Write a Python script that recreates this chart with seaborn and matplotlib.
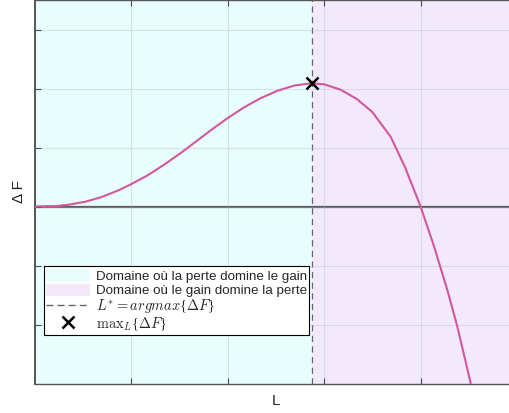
import numpy as np
import pandas as pd
import matplotlib
matplotlib.use("Agg")
import matplotlib.pyplot as plt
from matplotlib.patches import Patch, Rectangle
from matplotlib.lines import Line2D
from matplotlib.legend_handler import HandlerPatch
import seaborn as sns

# Curve ΔF(L)
L_vals = [0.00, 0.21, 0.34, 0.52, 0.69, 0.86, 1.00, 1.17, 1.34, 1.52, 1.69,
          1.86, 2.00, 2.17, 2.34, 2.52, 2.69, 2.87, 3.00, 3.17, 3.34, 3.50,
          3.69, 3.84, 4.00, 4.14, 4.28, 4.38, 4.48, 4.52]
delta_F = [0.00, 0.007, 0.028, 0.08, 0.16, 0.27, 0.38, 0.53, 0.71, 0.916, 1.126,
           1.336, 1.50, 1.682, 1.835, 1.965, 2.05, 2.09, 2.07, 1.98, 1.82, 1.60,
           1.18, 0.66, 0.00, -0.68, -1.43, -2.03, -2.72, -3.00]

legend_labels = [
    "Domaine où la perte domine le gain",
    "Domaine où le gain domine la perte",
    r"$L^{*} = argmax${$\Delta F$}",
    r"$\mathrm{max}_{L}${$\Delta F$}",
]
x_label = "L"
y_label = "Δ F"

df = pd.DataFrame({"L": L_vals, "dF": delta_F})
i_max = int(np.argmax(delta_F))
L_star = L_vals[i_max]
F_max = delta_F[i_max]

sns.set_style("white")
plt.rcParams["font.family"] = ["Liberation Sans", "DejaVu Sans"]
plt.rcParams["mathtext.fontset"] = "cm"

fig = plt.figure(figsize=(5.10, 4.13), dpi=100)
ax = fig.add_axes([35 / 510, (413 - 383.5) / 413, 482 / 510, 383.5 / 413])

xmin, xmax = 0, 5
ymin, ymax = -3, 3.5

cyan = "#e8fdfd"
lavender = "#f3e9fd"
ax.axvspan(xmin, L_star, color=cyan, lw=0, zorder=0)
ax.axvspan(L_star, xmax, color=lavender, lw=0, zorder=0)

ax.set_xlim(xmin, xmax)
ax.set_ylim(ymin, ymax)
ax.set_xticks([1, 2, 3, 4])
ax.set_yticks([-2, -1, 0, 1, 2, 3])
ax.set_xticklabels([])
ax.set_yticklabels([])
ax.grid(True, color="#b0b8bc", alpha=0.35, lw=0.8)
ax.set_axisbelow(False)
ax.tick_params(direction="in", length=4, width=0.8, color="#4a4a4a",
               top=True, right=True, bottom=True, left=True)

ax.axhline(0, color="#5a5a5a", lw=1.6, zorder=2)
ax.axvline(L_star, color="#666666", lw=0.9, ls=(0, (5, 3.5)), zorder=2)

sns.lineplot(data=df, x="L", y="dF", ax=ax, color="#d4569e", lw=1.5,
             zorder=3, legend=False)
sns.scatterplot(x=[L_star], y=[F_max], ax=ax, marker="x", s=75,
                color="black", linewidth=1.8, zorder=4, legend=False)

for side in ["left", "bottom", "top", "right"]:
    ax.spines[side].set_color("#555555")
    ax.spines[side].set_linewidth(1.0)
ax.spines["left"].set_linewidth(1.4)

ax.set_xlabel(x_label, fontsize=11, labelpad=4)
ax.set_ylabel(y_label, fontsize=11, labelpad=3)


def swatch(legend, orig_handle, xdescent, ydescent, width, height, fontsize):
    # colour swatch a bit shorter than its legend row
    h = 0.88 * fontsize
    return Rectangle((-xdescent, -ydescent + (height - h) / 2), width, h)


handles = [
    Patch(facecolor=cyan, edgecolor="none"),
    Patch(facecolor=lavender, edgecolor="none"),
    Line2D([], [], color="#666666", lw=1.0, ls=(0, (5, 3))),
    Line2D([], [], color="black", marker="x", ms=8, mew=1.8, lw=0),
]
leg = ax.legend(handles, legend_labels, loc="lower left",
                bbox_to_anchor=(0.0193, 0.127), fontsize=9.6,
                frameon=True, fancybox=False, edgecolor="black",
                framealpha=1, handlelength=3.3, handleheight=1.3,
                labelspacing=0.0, borderpad=0.15, handletextpad=0.45,
                borderaxespad=0,
                handler_map={Patch: HandlerPatch(patch_func=swatch)})
leg.get_frame().set_linewidth(0.8)
# formula rows: serif braces, slightly larger size
for t in leg.get_texts()[2:]:
    t.set_fontfamily(["Liberation Serif", "DejaVu Serif"])
    t.set_fontsize(10.4)

fig.savefig("out.png", dpi=100)
